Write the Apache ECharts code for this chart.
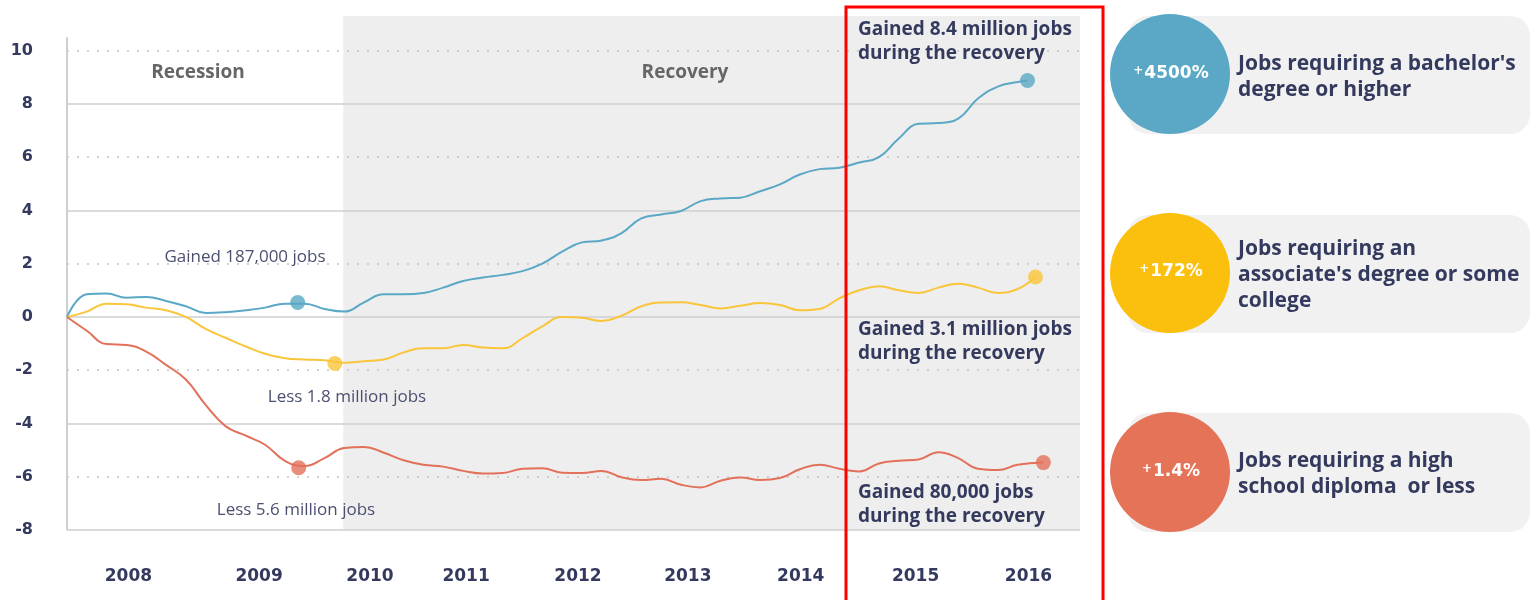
<!DOCTYPE html>
<html><head><meta charset="utf-8">
<script src="https://cdn.jsdelivr.net/npm/echarts@6/dist/echarts.min.js"></script>
<style>html,body{margin:0;padding:0;background:#fff}#c{width:1532px;height:600px}</style>
</head><body><div id="c"></div><script>
// months since Dec 2007, sampled every 2 months
const months = [0,2,4,6,8,10,12,14,16,18,20,22,24,26,28,30,32,34,36,38,40,42,44,46,48,50,52,54,56,58,60,62,64,66,68,70,72,74,76,78,80,82,84,86,88,90,92,94,96];
const bachelor = [0,0.85,0.88,0.72,0.75,0.6,0.4,0.15,0.18,0.25,0.35,0.5,0.5,0.3,0.2,0.55,0.85,0.85,0.9,1.1,1.35,1.48,1.58,1.72,2.0,2.45,2.8,2.87,3.15,3.7,3.85,3.98,4.35,4.45,4.48,4.72,4.98,5.35,5.55,5.6,5.8,6.0,6.7,7.25,7.28,7.45,8.2,8.65,8.82];
const associate = [0,0.2,0.5,0.48,0.35,0.25,0.0,-0.45,-0.78,-1.1,-1.38,-1.55,-1.6,-1.63,-1.72,-1.66,-1.6,-1.33,-1.18,-1.18,-1.05,-1.15,-1.18,-0.8,-0.35,0.0,-0.03,-0.15,0.05,0.4,0.54,0.55,0.45,0.32,0.42,0.52,0.45,0.25,0.3,0.7,1.0,1.15,1.0,0.9,1.1,1.25,1.1,0.9,1.05];
const highSchool = [0,-0.52,-1.02,-1.05,-1.3,-1.8,-2.35,-3.3,-4.1,-4.45,-4.8,-5.4,-5.6,-5.3,-4.92,-4.88,-5.1,-5.38,-5.55,-5.62,-5.78,-5.88,-5.86,-5.7,-5.68,-5.85,-5.86,-5.78,-6.02,-6.12,-6.08,-6.3,-6.4,-6.15,-6.03,-6.12,-6.05,-5.72,-5.55,-5.7,-5.8,-5.5,-5.4,-5.35,-5.08,-5.3,-5.7,-5.75,-5.55];
// final points [month, value]
const bachelorEnd = [97.0, 8.88];
const associateEnd = [97.8, 1.5];
const highSchoolEnd = [98.6, -5.47];
// recession-end markers [month, value]
const bachelorMark = [23.3, 0.54];
const associateMark = [27.05, -1.75];
const highSchoolMark = [23.4, -5.66];

const yearLabels = ['2008','2009','2010','2011','2012','2013','2014','2015','2016'];
const yearPos = [6.2,19.4,30.6,40.3,51.6,62.7,74.1,85.7,97.1];
const solidLevels = [8,4,0,-4,-8];
const dottedLevels = [10,6,2,-2,-6];
const recoveryStart = 27.9;
const xMax = 102.3;

const blue = '#5aa8c6', yellow = '#f9c53a', red = '#e2705a', navy = '#343a5e';
const FONT = '"Open Sans", sans-serif';
const NUMFONT = '"DejaVu Sans", sans-serif';

function pairs(xs, ys, end) { const d = xs.map((m,i)=>[m, ys[i]]); d.push(end); return d; }

const chart = echarts.init(document.getElementById('c'));
const lineSeries = (name, ys, end, color) => ({
  name, type: 'line', data: pairs(months, ys, end), smooth: 0.45, showSymbol: false,
  lineStyle: { color, width: 2 }, z: 5, silent: true
});
const dotSeries = (name, pts, color) => ({
  name, type: 'scatter', data: pts, symbolSize: 15, itemStyle: { color }, z: 6, silent: true
});
const txt = (x, y, text, font, fill, align, extra) => ({
  type: 'text', x, y, z: 20, silent: true,
  style: Object.assign({ text, font, fill, align: align || 'center', verticalAlign: 'middle' }, extra || {})
});
const pct = (x, y, num) => ({
  type: 'text', x, y, z: 20, silent: true,
  style: {
    text: '{p|+}{n|' + num + '}', align: 'center', verticalAlign: 'middle',
    rich: {
      p: { fontSize: 12, fontWeight: 'bold', fontFamily: NUMFONT, fill: '#fff', verticalAlign: 'top', padding: [0, 1, 6, 0] },
      n: { fontSize: 17, fontWeight: 'bold', fontFamily: NUMFONT, fill: '#fff' }
    }
  }
});

chart.setOption({
  animation: false,
  grid: { left: 67, right: 1532 - 1080, top: 16, bottom: 70 },
  xAxis: {
    type: 'value', min: 0, max: xMax,
    axisLine: { show: false }, axisTick: { show: false }, splitLine: { show: false },
    axisLabel: {
      customValues: yearPos, margin: 38,
      formatter: v => { const i = yearPos.findIndex(p => Math.abs(p - v) < 1e-6); return i >= 0 ? yearLabels[i] : ''; },
      color: navy, fontSize: 17, fontWeight: 'bold', fontFamily: NUMFONT
    }
  },
  yAxis: {
    type: 'value', min: -8, max: 11.3, interval: 2,
    axisLine: { show: false }, axisTick: { show: false }, splitLine: { show: false },
    axisLabel: {
      formatter: v => (Number.isInteger(v) && v <= 10 ? String(v) : ''),
      color: navy, fontSize: 16, fontWeight: 'bold', fontFamily: NUMFONT, margin: 34
    }
  },
  series: [
    { type: 'line', data: [], z: 1, silent: true,
      markArea: { silent: true, itemStyle: { color: '#eeeeee' },
        data: [[{ xAxis: recoveryStart, yAxis: -8 }, { xAxis: xMax, yAxis: 11.3 }]] } },
    { type: 'line', data: [], z: 2, silent: true,
      markLine: { silent: true, symbol: 'none', label: { show: false },
        data: solidLevels.map(v => ({ yAxis: v, lineStyle: { color: '#cfcfcf', width: 1.5, type: 'solid' } }))
          .concat(dottedLevels.map(v => ({ yAxis: v, lineStyle: { color: '#c4c4c4', width: 1.5, type: [2, 8] } })))
          .concat([[{ coord: [0, -8], lineStyle: { color: '#cfcfcf', width: 2, type: 'solid' } }, { coord: [0, 10.5] }]])
      } },
    lineSeries('bachelor', bachelor, bachelorEnd, blue),
    lineSeries('associate', associate, associateEnd, yellow),
    lineSeries('highSchool', highSchool, highSchoolEnd, red),
    dotSeries('bachelorDots', [bachelorMark, bachelorEnd], blue),
    dotSeries('associateDots', [associateMark, associateEnd], yellow),
    dotSeries('highSchoolDots', [highSchoolMark, highSchoolEnd], red)
  ],
  graphic: [
    txt(198, 73, 'Recession', 'bold 19px ' + FONT, '#666'),
    txt(685, 73, 'Recovery', 'bold 19px ' + FONT, '#666'),
    txt(245, 257, 'Gained 187,000 jobs', '17px ' + FONT, '#4b5070'),
    txt(347, 397, 'Less 1.8 million jobs', '17px ' + FONT, '#4b5070'),
    txt(296, 510, 'Less 5.6 million jobs', '17px ' + FONT, '#4b5070'),
    txt(858, 42, 'Gained 8.4 million jobs\nduring the recovery', 'bold 19px ' + FONT, navy, 'left', { lineHeight: 24 }),
    txt(858, 342, 'Gained 3.1 million jobs\nduring the recovery', 'bold 19px ' + FONT, navy, 'left', { lineHeight: 24 }),
    txt(858, 505, 'Gained 80,000 jobs\nduring the recovery', 'bold 19px ' + FONT, navy, 'left', { lineHeight: 24 }),
    { type: 'rect', shape: { x: 846, y: 7, width: 257, height: 600 }, style: { fill: 'none', stroke: '#ff0000', lineWidth: 3 }, z: 100 },

    { type: 'rect', shape: { x: 1128, y: 16, width: 402, height: 118, r: 20 }, style: { fill: '#f1f1f1' } },
    { type: 'circle', shape: { cx: 1170, cy: 74, r: 60 }, style: { fill: blue }, z: 2 },
    pct(1171, 74, '4500%'),
    txt(1238, 77, "Jobs requiring a bachelor's\ndegree or higher", 'bold 21px ' + FONT, navy, 'left', { lineHeight: 26 }),

    { type: 'rect', shape: { x: 1128, y: 215, width: 402, height: 118, r: 20 }, style: { fill: '#f1f1f1' } },
    { type: 'circle', shape: { cx: 1170, cy: 273, r: 60 }, style: { fill: '#fbbf0d' }, z: 2 },
    pct(1171, 272, '172%'),
    txt(1238, 275, "Jobs requiring an\nassociate's degree or some\ncollege", 'bold 21px ' + FONT, navy, 'left', { lineHeight: 26 }),

    { type: 'rect', shape: { x: 1128, y: 413, width: 402, height: 119, r: 20 }, style: { fill: '#f1f1f1' } },
    { type: 'circle', shape: { cx: 1170, cy: 472, r: 60 }, style: { fill: '#e57358' }, z: 2 },
    pct(1171, 472, '1.4%'),
    txt(1238, 474, 'Jobs requiring a high\nschool diploma  or less', 'bold 21px ' + FONT, navy, 'left', { lineHeight: 26 })
  ]
});
</script></body></html>
